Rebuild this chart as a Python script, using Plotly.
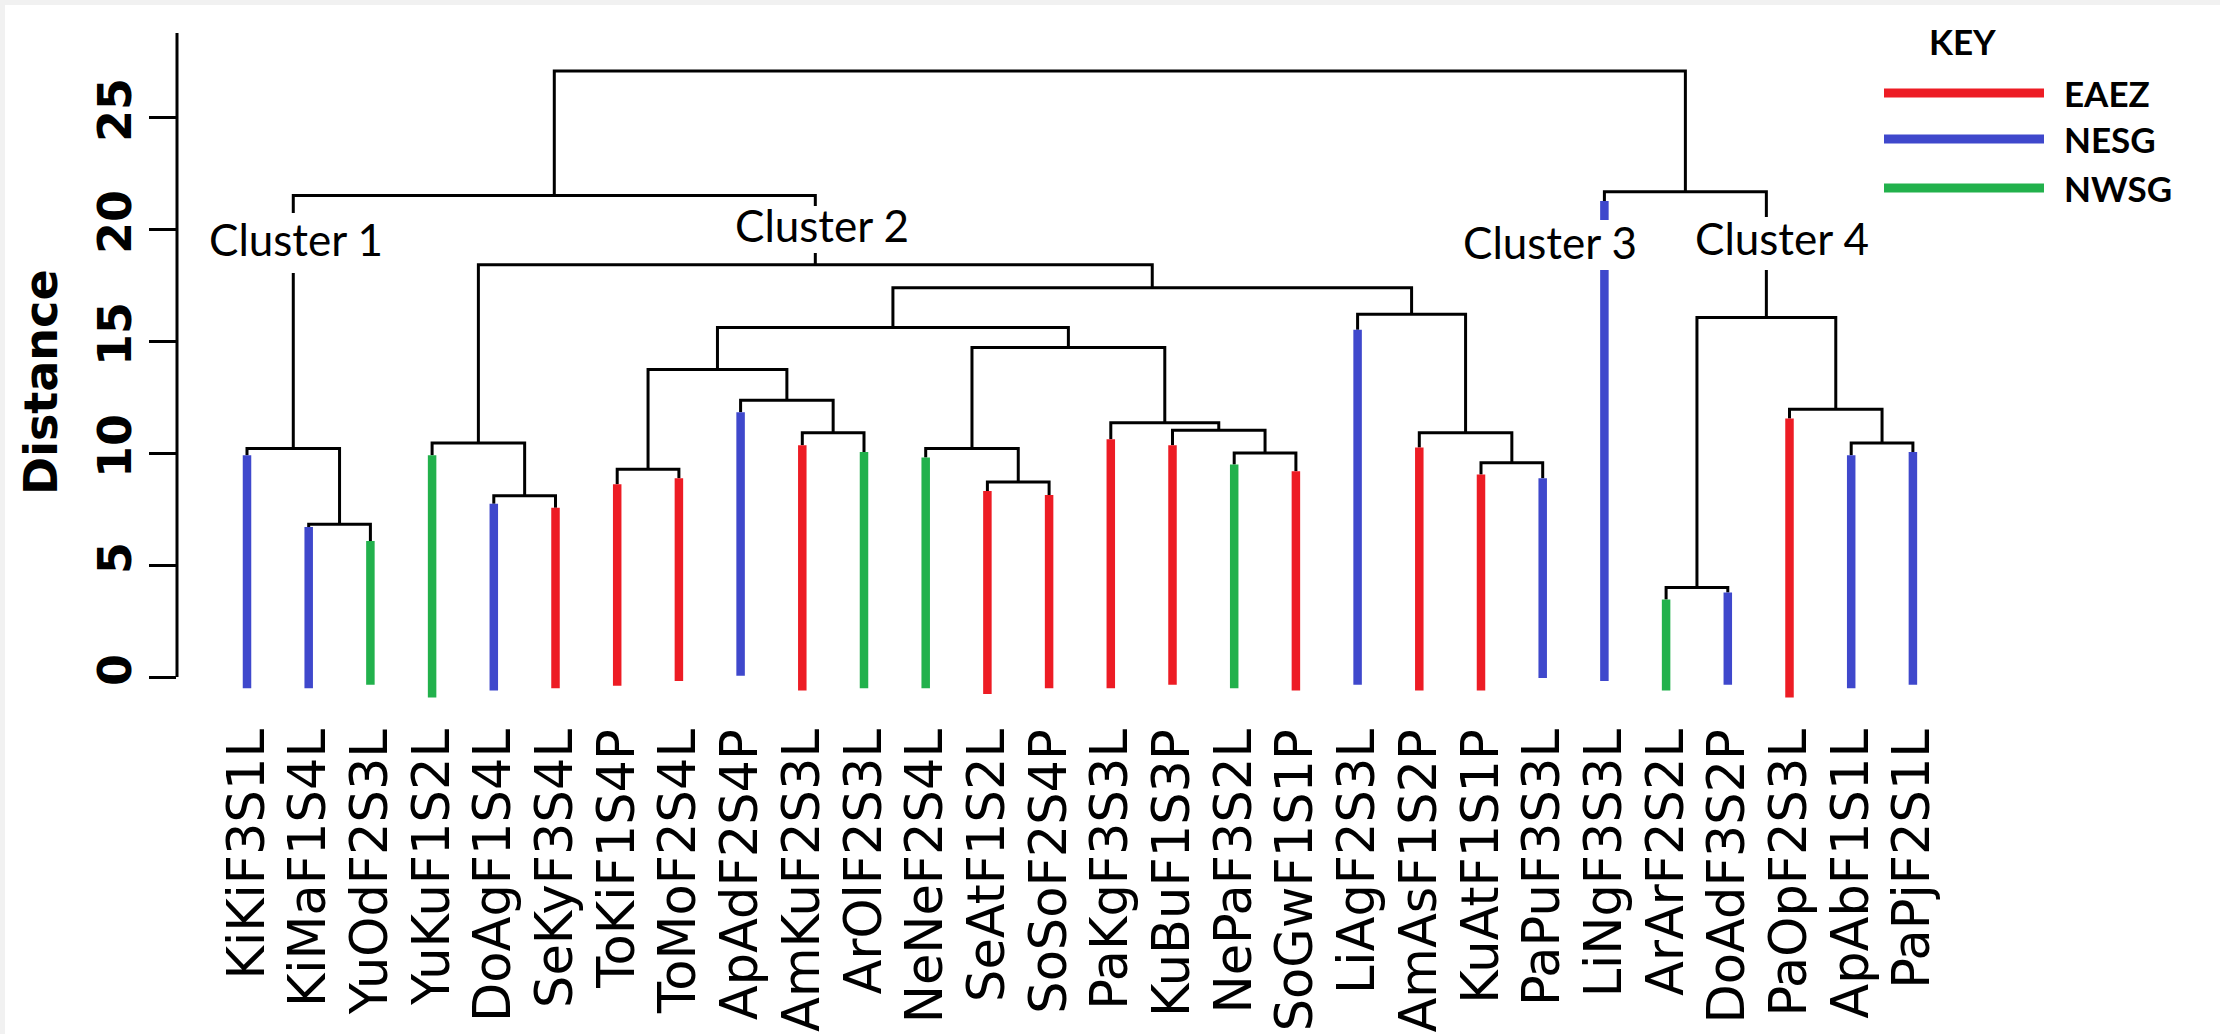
import plotly.graph_objects as go

# ---------------- data ----------------
leaves = ["KiKiF3S1L", "KiMaF1S4L", "YuOdF2S3L", "YuKuF1S2L", "DoAgF1S4L", "SeKyF3S4L",
          "ToKiF1S4P", "ToMoF2S4L", "ApAdF2S4P", "AmKuF2S3L", "ArOlF2S3L", "NeNeF2S4L",
          "SeAtF1S2L", "SoSoF2S4P", "PaKgF3S3L", "KuBuF1S3P", "NePaF3S2L", "SoGwF1S1P",
          "LiAgF2S3L", "AmAsF1S2P", "KuAtF1S1P", "PaPuF3S3L", "LiNgF3S3L", "ArArF2S2L",
          "DoAdF3S2P", "PaOpF2S3L", "ApAbF1S1L", "PaPjF2S1L"]
groups = ["NESG", "NESG", "NWSG", "NWSG", "NESG", "EAEZ",
          "EAEZ", "EAEZ", "NESG", "EAEZ", "NWSG", "NWSG",
          "EAEZ", "EAEZ", "EAEZ", "EAEZ", "NWSG", "EAEZ",
          "NESG", "EAEZ", "EAEZ", "NESG", "NESG", "NWSG",
          "NESG", "EAEZ", "NESG", "NESG"]
bar_top = [9.9, 6.7, 6.07, 9.9, 7.73, 7.56, 8.6, 8.87, 11.82, 10.35, 10.04, 9.8,
           8.3, 8.13, 10.61, 10.35, 9.49, 9.18, 15.5, 10.25, 9.04, 8.87, 21.25, 3.46,
           3.77, 11.54, 9.9, 10.04]
bar_bottom = [-0.5, -0.5, -0.35, -0.92, -0.6, -0.5, -0.39, -0.18, 0.06, -0.6, -0.5, -0.5,
              -0.76, -0.5, -0.5, -0.35, -0.5, -0.6, -0.35, -0.6, -0.6, -0.04, -0.18, -0.6,
              -0.35, -0.92, -0.5, -0.35]
# merges: (child_a, child_b, height); ids >= 28 refer to earlier merges
merge_a = [1, 0, 4, 3, 6, 9, 8, 32, 12, 11, 16, 15, 14, 37, 35, 20, 19, 18, 42, 31, 29, 23, 26, 25, 49, 22, 48]
merge_b = [2, 28, 5, 30, 7, 10, 33, 34, 13, 36, 17, 38, 39, 40, 41, 21, 43, 44, 45, 46, 47, 24, 27, 50, 51, 52, 53]
merge_h = [6.82, 10.2, 8.09, 10.45, 9.28, 10.9, 12.36, 13.73, 8.71, 10.2, 10.0, 11.02, 11.35,
           14.71, 15.6, 9.57, 10.9, 16.19, 17.38, 18.4, 21.5, 4.0, 10.45, 11.95, 16.05, 21.66, 27.05]
y_ticks = [0, 5, 10, 15, 20, 25]
key_names = ["EAEZ", "NESG", "NWSG"]
key_colors = ["#ED1C24", "#3F48CC", "#22B14C"]
cluster_names = ["Cluster 1", "Cluster 2", "Cluster 3", "Cluster 4"]

color_of = dict(zip(key_names, key_colors))
n = len(leaves)

# ---------------- geometry from the linkage ----------------
node_x = {i: float(i) for i in range(n)}
node_top = {i: bar_top[i] for i in range(n)}
bx, by = [], []
for k, (a, b, h) in enumerate(zip(merge_a, merge_b, merge_h)):
    nid = n + k
    xa, xb = node_x[a], node_x[b]
    bx += [xa, xa, xb, xb, None]
    by += [node_top[a], h, h, node_top[b], None]
    node_x[nid] = (xa + xb) / 2
    node_top[nid] = h

fig = go.Figure()
fig.add_trace(go.Scatter(x=bx, y=by, mode="lines", line=dict(color="black", width=3),
                         hoverinfo="skip", showlegend=False))
for g in key_names:
    xs, ys = [], []
    for i in range(n):
        if groups[i] == g:
            xs += [i, i, None]
            ys += [bar_bottom[i], bar_top[i], None]
    fig.add_trace(go.Scatter(x=xs, y=ys, mode="lines", line=dict(color=color_of[g], width=8.5),
                             hoverinfo="skip", showlegend=False))

# ---------------- layout ----------------
W, H = 2220, 1034
L, T, PH = 177, 0, 710
PW = W - L
x0px, dxpx = 247.0, 61.7
y0px, dypx = 677.0, 22.4
xr = [(L - x0px) / dxpx, (W - x0px) / dxpx]
yr = [(y0px - PH) / dypx, y0px / dypx]

def px2x(p):
    return (p - x0px) / dxpx

def py2y(p):
    return (y0px - p) / dypx

shapes = [
    dict(type="line", xref="paper", yref="y", x0=0, x1=0, y0=0, y1=28.75,
         line=dict(color="black", width=3)),
    dict(type="rect", xref="paper", yref="paper", x0=-L / PW, x1=1, y0=1 - 5 / PH, y1=1,
         fillcolor="#f1f1f1", line=dict(width=0)),
    dict(type="rect", xref="paper", yref="paper", x0=-L / PW, x1=(5 - L) / PW, y0=-(H - PH) / PH, y1=1,
         fillcolor="#f1f1f1", line=dict(width=0)),
]
annotations = []
# legend (KEY)
annotations.append(dict(text="<b>KEY</b>", x=px2x(1962), y=py2y(41), xref="x", yref="y",
                        showarrow=False, font=dict(family="Lato", size=35, color="black")))
for k, (name, col) in enumerate(zip(key_names, key_colors)):
    yy = py2y([93, 139, 188][k])
    shapes.append(dict(type="line", xref="x", yref="y", x0=px2x(1884), x1=px2x(2044), y0=yy, y1=yy,
                       line=dict(color=col, width=9)))
    annotations.append(dict(text="<b>%s</b>" % name, x=px2x(2062), y=yy, xref="x", yref="y",
                            xanchor="left", showarrow=False,
                            font=dict(family="Lato", size=35, color="black")))
# cluster labels, each on a white gap that interrupts the dendrogram lines
cl_pos = [(296, 239), (822, 225), (1550, 242), (1782, 238)]
cl_gap = [(207, 384, 213, 273), (733, 912, 206, 253), (1463, 1640, 220, 270), (1693, 1873, 217, 270)]
for name, (cx, cy), (gx0, gx1, gy0, gy1) in zip(cluster_names, cl_pos, cl_gap):
    shapes.append(dict(type="rect", xref="x", yref="y", layer="above",
                       x0=px2x(gx0), x1=px2x(gx1), y0=py2y(gy1), y1=py2y(gy0),
                       fillcolor="white", line=dict(width=0)))
    annotations.append(dict(text=name, x=px2x(cx), y=py2y(cy), xref="x", yref="y", showarrow=False,
                            font=dict(family="Lato", size=44, color="black")))
# y axis title
annotations.append(dict(text="<b>Distance</b>", x=(41 - L) / PW, y=1 - 382 / PH, xref="paper", yref="paper",
                        xanchor="center", yanchor="middle", textangle=-90, showarrow=False,
                        font=dict(family="DejaVu Sans", size=46, color="black")))

fig.update_layout(
    width=W, height=H,
    margin=dict(l=L, r=0, t=T, b=H - PH, pad=0),
    paper_bgcolor="white", plot_bgcolor="white",
    shapes=shapes, annotations=annotations,
    xaxis=dict(range=xr, showgrid=False, zeroline=False, showline=False,
               tickmode="array", tickvals=list(range(n)), ticktext=leaves, tickangle=-90,
               ticks="", ticklabelstandoff=8,
               tickfont=dict(family="DejaVu Sans", size=51, color="black")),
    yaxis=dict(range=yr, showgrid=False, zeroline=False, showline=False,
               tickmode="array", tickvals=y_ticks, tickangle=-90,
               ticks="outside", ticklen=27, tickwidth=3, tickcolor="black",
               tickfont=dict(family="DejaVu Sans", size=46, color="black", weight="bold")),
)

fig.write_html("out.html", config={"displayModeBar": False},
               post_script="document.body.style.margin='0';document.body.style.overflow='hidden';")
